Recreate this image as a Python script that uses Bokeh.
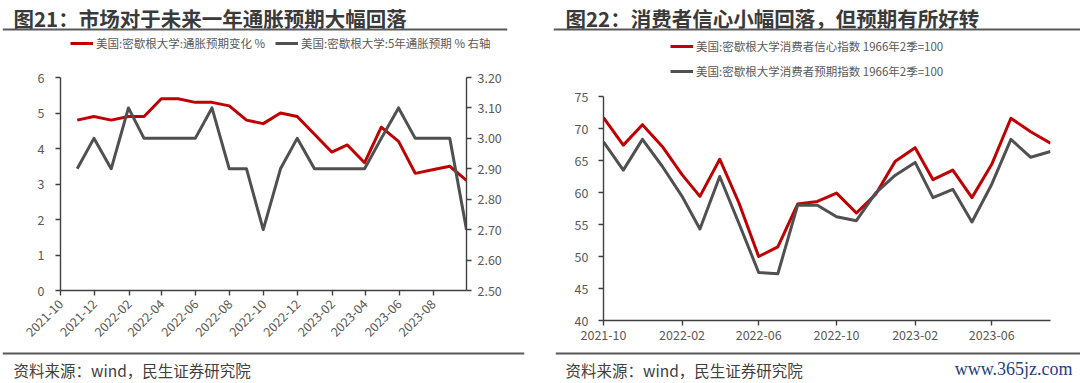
import math
import pandas as pd
from bokeh.plotting import figure
from bokeh.layouts import row, column
from bokeh.models import (Range1d, LinearAxis, Legend, LegendItem, Label, Span,
                          FixedTicker, DatetimeTickFormatter, NumeralTickFormatter)
from bokeh.embed import file_html
from bokeh.resources import INLINE

# ---------------- data: 图21 ----------------
c1_months = ["2021-10", "2021-11", "2021-12", "2022-01", "2022-02", "2022-03",
             "2022-04", "2022-05", "2022-06", "2022-07", "2022-08", "2022-09",
             "2022-10", "2022-11", "2022-12", "2023-01", "2023-02", "2023-03",
             "2023-04", "2023-05", "2023-06", "2023-07", "2023-08", "2023-09"]
c1_infl_1y = [4.8, 4.9, 4.8, 4.9, 4.9, 5.4, 5.4, 5.3, 5.3, 5.2, 4.8, 4.7,
              5.0, 4.9, 4.4, 3.9, 4.1, 3.6, 4.6, 4.2, 3.3, 3.4, 3.5, 3.1]
c1_infl_5y = [2.9, 3.0, 2.9, 3.1, 3.0, 3.0, 3.0, 3.0, 3.1, 2.9, 2.9, 2.7,
              2.9, 3.0, 2.9, 2.9, 2.9, 2.9, 3.0, 3.1, 3.0, 3.0, 3.0, 2.7]
c1_xtick_labels = ["2021-10", "2021-12", "2022-02", "2022-04", "2022-06", "2022-08",
                   "2022-10", "2022-12", "2023-02", "2023-04", "2023-06", "2023-08"]
c1_left_ticks = [0, 1, 2, 3, 4, 5, 6]
c1_right_ticks = [2.5, 2.6, 2.7, 2.8, 2.9, 3.0, 3.1, 3.2]
c1_title = "图21：市场对于未来一年通胀预期大幅回落"
c1_names = ["美国:密歇根大学:通胀预期变化 %", "美国:密歇根大学:5年通胀预期 % 右轴"]

# ---------------- data: 图22 ----------------
c2_months = ["2021-10", "2021-11", "2021-12", "2022-01", "2022-02", "2022-03",
             "2022-04", "2022-05", "2022-06", "2022-07", "2022-08", "2022-09",
             "2022-10", "2022-11", "2022-12", "2023-01", "2023-02", "2023-03",
             "2023-04", "2023-05", "2023-06", "2023-07", "2023-08", "2023-09"]
c2_sentiment = [71.7, 67.4, 70.6, 67.2, 62.8, 59.4, 65.2, 58.4, 50.0, 51.5, 58.2, 58.6,
                59.9, 56.8, 59.7, 64.9, 67.0, 62.0, 63.5, 59.2, 64.4, 71.6, 69.5, 67.7]
c2_expect = [67.9, 63.5, 68.3, 64.1, 59.4, 54.3, 62.5, 55.2, 47.5, 47.3, 58.0, 58.0,
             56.2, 55.6, 59.9, 62.7, 64.7, 59.2, 60.5, 55.4, 61.3, 68.3, 65.5, 66.4]
c2_xtick_labels = ["2021-10", "2022-02", "2022-06", "2022-10", "2023-02", "2023-06"]
c2_yticks = [40, 45, 50, 55, 60, 65, 70, 75]
c2_title = "图22：消费者信心小幅回落，但预期有所好转"
c2_names = ["美国:密歇根大学消费者信心指数 1966年2季=100",
            "美国:密歇根大学消费者预期指数 1966年2季=100"]

source_text = "资料来源：wind，民生证券研究院"
watermark = "www.365jz.com"

# ---------------- style ----------------
FONT = "Noto Sans CJK SC"
RED = "#C00000"
GRAY = "#505050"
AXIS = "#404040"
TICKTXT = "#595959"
TITLE_C = "#3A3A3A"
RULE = "#595959"
W = 540


def ms(ts):
    return pd.Timestamp(ts).timestamp() * 1000.0


def style_axis(ax, standoff):
    ax.axis_line_color = AXIS
    ax.axis_line_width = 1.4
    ax.major_tick_line_color = AXIS
    ax.major_tick_line_width = 1.4
    ax.major_tick_out = 5
    ax.major_tick_in = 0
    ax.minor_tick_line_color = None
    ax.major_label_text_font = FONT
    ax.major_label_text_font_size = "12.5px"
    ax.major_label_text_color = TICKTXT
    ax.major_label_standoff = standoff


def chart_fig(h, bl, br, bt, bb, xr, yr):
    p = figure(x_axis_type="datetime", width=W, height=h,
               min_border_left=bl, min_border_right=br, min_border_top=bt,
               min_border_bottom=bb, x_range=xr, y_range=yr,
               output_backend="svg", toolbar_location=None, title=None)
    p.outline_line_color = None
    p.xgrid.visible = False
    p.ygrid.visible = False
    p.background_fill_color = "white"
    p.border_fill_color = "white"
    return p


def panel_fig(h, x0, x1):
    # header/footer strip: its frame spans [x0, x1] horizontally and the full height,
    # data coordinates equal pixel coordinates
    f = figure(width=W, height=h, x_range=Range1d(x0, x1), y_range=Range1d(h, 0),
               min_border_left=x0, min_border_right=W - x1,
               min_border_top=0, min_border_bottom=0,
               x_axis_location=None, y_axis_location=None,
               output_backend="svg", toolbar_location=None, title=None)
    f.outline_line_color = None
    f.grid.visible = False
    f.background_fill_color = "white"
    f.border_fill_color = "white"
    return f


def rule(f, y):
    f.add_layout(Span(location=y, dimension="width", line_color=RULE, line_width=2.2))


def text(f, x, y, s, size, color, font=FONT, bold=False, align="left"):
    f.add_layout(Label(x=x, y=y, text=s, text_font=font, text_font_size=size,
                       text_font_style="bold" if bold else "normal",
                       text_color=color, text_baseline="middle", text_align=align))


def add_legend(f, names, colors, orientation, loc, spacing):
    items = []
    for name, col in zip(names, colors):
        r = f.line(x=[float("nan")], y=[float("nan")], line_color=col, line_width=3)
        items.append(LegendItem(label=name, renderers=[r]))
    f.add_layout(Legend(items=items, orientation=orientation, location=loc,
                        label_text_font=FONT, label_text_font_size="11.5px",
                        label_text_color=TICKTXT, glyph_width=23, glyph_height=14,
                        label_height=14, label_standoff=3, spacing=spacing, padding=0,
                        margin=0, border_line_color=None, background_fill_alpha=0),
                 "center")


# ================= chart 1 =================
H1 = 67
h1 = panel_fig(H1, 2, 507)
text(h1, 13, 17, c1_title, "20.5px", TITLE_C, bold=True)
rule(h1, 29)
add_legend(h1, c1_names, [RED, GRAY], "horizontal", (68, H1 - 51), 10)

x1 = [pd.Timestamp(m) + pd.offsets.MonthEnd(0) for m in c1_months]
p1 = chart_fig(283, 60, 74, 10, 60,
               Range1d(pd.Timestamp(c1_xtick_labels[0]), x1[-1]),
               Range1d(c1_left_ticks[0], c1_left_ticks[-1]))
p1.extra_y_ranges = {"r": Range1d(c1_right_ticks[0], c1_right_ticks[-1])}
p1.line(x1, c1_infl_1y, line_color=RED, line_width=3, line_join="round")
p1.line(x1, c1_infl_5y, line_color=GRAY, line_width=3, line_join="round",
        y_range_name="r")
p1.yaxis.ticker = FixedTicker(ticks=c1_left_ticks)
style_axis(p1.yaxis[0], 11)
rax = LinearAxis(y_range_name="r", ticker=FixedTicker(ticks=c1_right_ticks),
                 formatter=NumeralTickFormatter(format="0.00"))
style_axis(rax, 6)
p1.add_layout(rax, "right")
p1.xaxis.ticker = FixedTicker(ticks=[ms(m) for m in c1_xtick_labels])
p1.xaxis.formatter = DatetimeTickFormatter(days="%Y-%m", months="%Y-%m", years="%Y-%m")
p1.xaxis.major_label_orientation = math.pi / 4
style_axis(p1.xaxis[0], 6)

f1 = panel_fig(33, 2, 524)
rule(f1, 3)
text(f1, 13, 19, source_text, "15.5px", "#404040")

# ================= chart 2 =================
H2 = 86
h2 = panel_fig(H2, 13, W)
text(h2, 25, 17, c2_title, "20.5px", TITLE_C, bold=True)
rule(h2, 29)
add_legend(h2, c2_names, [RED, GRAY], "vertical", (117, H2 - 79), 9)

x2 = [pd.Timestamp(m) for m in c2_months]
p2 = chart_fig(264, 63, 30, 10, 30,
               Range1d(x2[0], x2[-1]),
               Range1d(c2_yticks[0], c2_yticks[-1]))
p2.line(x2, c2_sentiment, line_color=RED, line_width=3, line_join="round")
p2.line(x2, c2_expect, line_color=GRAY, line_width=3, line_join="round")
p2.yaxis.ticker = FixedTicker(ticks=c2_yticks)
style_axis(p2.yaxis[0], 10)
p2.xaxis.ticker = FixedTicker(ticks=[ms(m) for m in c2_xtick_labels])
p2.xaxis.formatter = DatetimeTickFormatter(days="%Y-%m", months="%Y-%m", years="%Y-%m")
style_axis(p2.xaxis[0], 4)

f2 = panel_fig(33, 15, W)
rule(f2, 3)
text(f2, 25, 19, source_text, "15.5px", "#404040")
text(f2, 532, 18, watermark, "18px", "#1F3F80", font="Liberation Serif", align="right")

layout = row(column(row(h1), p1, row(f1), spacing=0),
             column(row(h2), p2, row(f2), spacing=0), spacing=0)
open("out.html", "w").write(file_html(layout, INLINE))
